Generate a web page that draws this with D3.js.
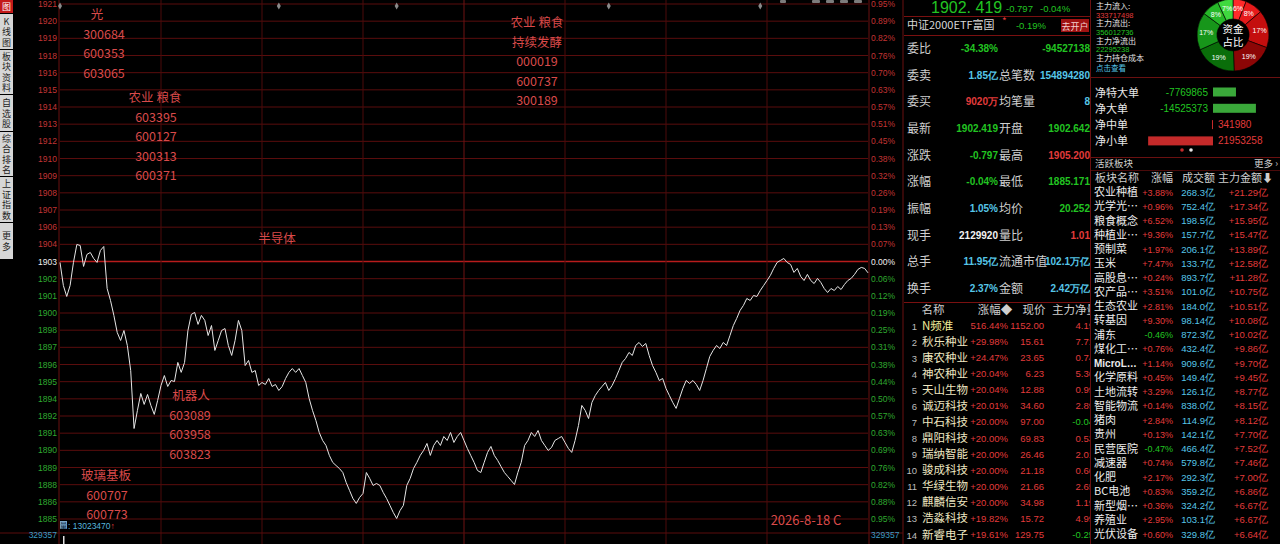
<!DOCTYPE html>
<html>
<head>
<meta charset="utf-8">
<script src="https://cdn.jsdelivr.net/npm/d3@7"></script>
<style>
html, body { margin: 0; padding: 0; background: #000; overflow: hidden; }
svg { display: block; }
</style>
</head>
<body>
<script>
// ---- values ----
var prevClose = 1903.216;
var rangePct = 0.0095;

var prices = [
  1903.15, 1901.53, 1900.76, 1901.53, 1903.15, 1904.41, 1904.34, 1902.87, 1903.71, 1903.85,
  1903.43, 1903.15, 1903.99, 1904.27, 1901.32, 1900.48, 1899.43, 1898.23, 1897.67, 1898.37,
  1897.32, 1895.56, 1891.49, 1892.76, 1893.95, 1893.18, 1893.88, 1893.11, 1892.48, 1893.46,
  1894.51, 1895.21, 1894.44, 1894.86, 1894.79, 1896.13, 1895.43, 1896.13, 1898.37, 1899.50,
  1899.64, 1898.80, 1899.43, 1899.08, 1898.02, 1898.72, 1896.97, 1897.67, 1898.37, 1898.51,
  1897.32, 1896.62, 1897.67, 1899.08, 1898.37, 1895.91, 1896.27, 1895.43, 1895.56, 1894.51,
  1894.72, 1894.58, 1895.00, 1894.44, 1894.58, 1894.16, 1894.44, 1895.00, 1895.43, 1895.70,
  1895.43, 1895.70, 1895.21, 1894.72, 1893.60, 1892.76, 1892.06, 1891.21, 1890.65, 1890.30,
  1889.60, 1889.11, 1888.89, 1888.68, 1888.40, 1887.70, 1887.14, 1886.58, 1886.23, 1886.65,
  1886.93, 1888.40, 1887.98, 1887.49, 1887.63, 1887.49, 1887.00, 1886.58, 1886.09, 1885.59,
  1885.17, 1885.73, 1886.09, 1887.49, 1887.98, 1888.68, 1889.11, 1889.60, 1889.95, 1890.44,
  1889.60, 1890.30, 1890.65, 1890.30, 1890.93, 1890.65, 1891.21, 1890.51, 1890.93, 1891.21,
  1890.65, 1890.09, 1889.60, 1889.11, 1888.54, 1888.40, 1889.11, 1889.81, 1890.23, 1889.60,
  1889.25, 1888.82, 1888.40, 1888.12, 1887.84, 1887.56, 1888.40, 1889.11, 1890.30, 1890.65,
  1891.21, 1890.93, 1891.35, 1890.65, 1890.30, 1889.95, 1890.16, 1890.65, 1890.79, 1890.93,
  1890.51, 1890.09, 1889.81, 1890.65, 1891.70, 1893.11, 1892.76, 1892.19, 1893.32, 1893.81,
  1894.16, 1894.44, 1894.72, 1894.16, 1894.51, 1895.00, 1895.56, 1896.13, 1896.41, 1896.83,
  1896.62, 1897.32, 1897.53, 1897.25, 1897.46, 1896.62, 1895.91, 1895.43, 1894.86, 1895.00,
  1894.30, 1893.81, 1893.32, 1892.90, 1893.60, 1894.30, 1894.86, 1894.65, 1894.86, 1894.58,
  1894.16, 1894.86, 1895.70, 1896.55, 1896.97, 1897.32, 1897.11, 1897.53, 1897.32, 1898.02,
  1898.72, 1899.22, 1899.78, 1900.13, 1900.62, 1900.48, 1900.83, 1900.76, 1901.18, 1901.53,
  1901.88, 1902.24, 1902.73, 1903.15, 1903.29, 1903.43, 1903.15, 1903.01, 1902.45, 1902.73,
  1902.17, 1901.88, 1902.31, 1901.88, 1901.67, 1902.03, 1901.74, 1901.32, 1901.04, 1901.32,
  1901.18, 1901.46, 1901.25, 1901.60, 1901.88, 1902.03, 1902.31, 1902.66, 1902.80, 1902.73,
  1902.42
];

var priceTickLabels = ["1921","1920","1919","1918","1916","1915","1914","1913","1912","1910",
  "1909","1908","1907","1906","1904","1903","1902","1901","1900","1898","1897","1896","1895",
  "1894","1892","1891","1890","1889","1888","1886","1885"];
var pctTickLabels = ["0.95%","0.89%","0.82%","0.76%","0.70%","0.63%","0.57%","0.51%","0.45%",
  "0.38%","0.32%","0.26%","0.19%","0.13%","0.07%","0.00%","0.06%","0.12%","0.19%","0.25%",
  "0.31%","0.38%","0.44%","0.50%","0.57%","0.63%","0.69%","0.76%","0.82%","0.88%","0.95%"];
var timeGridMinutes = [30, 60, 90, 120, 150, 180, 210];
var eventMinutes = [0, 65, 100, 163, 208];
var volumes = [329357];
var volumeLabel = "329357";
var totalVolume = "13023470";

var noteGroups = [
  ["光", "300684", "600353", "603065"],
  ["农业  粮食", "603395", "600127", "300313", "600371"],
  ["半导体"],
  ["机器人", "603089", "603958", "603823"],
  ["玻璃基板", "600707", "600773"],
  ["农业 粮食", "持续发酵", "000019", "600737", "300189"]
];
var dateNote = "2026-8-18 C";

var sideTabs = ["图", "K线图", "板块资料", "自选股", "综合排名", "上证指数", "更多"];

var lastPrice = "1902. 419", lastChange = "-0.797", lastPct = "-0.04%";
var etfName = "中证2000ETF富国", etfPct = "-0.19%";
var quoteLabels = ["委比","委卖","委买","最新","涨跌","涨幅","振幅","现手","总手","换手"];
var quoteValues = ["-34.38%","1.85亿","9020万","1902.419","-0.797","-0.04%","1.05%","2129920","11.95亿","2.37%"];
var quoteLabels2 = ["","总笔数","均笔量","开盘","最高","最低","均价","量比","流通市值","金额"];
var quoteValues2 = ["-94527138","154894280","8","1902.642","1905.200","1885.171","20.252","1.01","102.1万亿","2.42万亿"];

var stockNames = ["N频准","秋乐种业","康农种业","神农种业","天山生物","诚迈科技","中石科技",
  "鼎阳科技","瑞纳智能","骏成科技","华绿生物","麒麟信安","浩淼科技","新睿电子"];
var stockPct = ["516.44%","+29.98%","+24.47%","+20.04%","+20.04%","+20.01%","+20.00%",
  "+20.00%","+20.00%","+20.00%","+20.00%","+20.00%","+19.82%","+19.61%"];
var stockPrice = ["1152.00","15.61","23.65","6.23","12.88","34.60","97.00","69.83","26.46",
  "21.18","21.66","34.98","15.72","129.75"];
var stockNet = ["4.19","7.71","0.74","5.36","0.99","2.89","-0.04","0.53","2.01","0.66",
  "2.65","1.19","4.99","-0.25"];

var mainFlowLabels = ["主力流入:", "主力流出:", "主力净流出", "主力持仓成本"];
var mainFlowValues = ["333717498", "356012736", "22295238", "点击查看"];
var shareLabels = ["6%","8%","17%","19%","19%","17%","8%","7%"];
var shareValues = [6, 8, 17, 19, 19, 17, 8, 7];
var flowLabels = ["净特大单", "净大单", "净中单", "净小单"];
var flowValues = [-7769865, -14525373, 341980, 21953258];

var sectorNames = ["农业种植","光学光…","粮食概念","种植业…","预制菜","玉米","高股息…",
  "农产品…","生态农业","转基因","浦东","煤化工…","MicroL…","化学原料","土地流转","智能物流",
  "猪肉","贵州","民营医院","减速器","化肥","BC电池","新型烟…","养殖业","光伏设备"];
var sectorPct = ["+3.88%","+0.96%","+6.52%","+9.36%","+1.97%","+7.47%","+0.24%","+3.51%",
  "+2.81%","+9.30%","-0.46%","+0.76%","+1.14%","+0.45%","+3.29%","+0.14%","+2.84%","+0.13%",
  "-0.47%","+0.74%","+2.17%","+0.83%","+0.36%","+2.95%","+0.60%"];
var sectorAmount = ["268.3亿","752.4亿","198.5亿","157.7亿","206.1亿","133.7亿","893.7亿",
  "101.0亿","184.0亿","98.14亿","872.3亿","432.4亿","909.6亿","149.4亿","126.1亿","838.0亿",
  "114.9亿","142.1亿","466.4亿","579.8亿","292.3亿","359.2亿","324.2亿","103.1亿","329.8亿"];
var sectorMain = ["+21.29亿","+17.34亿","+15.95亿","+15.47亿","+13.89亿","+12.58亿","+11.28亿",
  "+10.75亿","+10.51亿","+10.08亿","+10.02亿","+9.86亿","+9.70亿","+9.45亿","+8.77亿","+8.15亿",
  "+8.12亿","+7.70亿","+7.52亿","+7.46亿","+7.00亿","+6.86亿","+6.67亿","+6.67亿","+6.64亿"];

// ---- colours ----
var RED = "#e23b3b", GREEN = "#22c422", CYAN = "#56c6e8", GREY = "#cfcfcf";
var GRID = "#5a0d0d", NOTE = "#d94a4a";
var CJK = '"Noto Sans CJK SC","Noto Sans",sans-serif';
var NUM = '"Liberation Sans","DejaVu Sans",sans-serif';

var svg = d3.select("body").append("svg")
    .attr("width", 1280)
    .attr("height", 544)
    .style("font-family", CJK);

svg.append("rect").attr("width", 1280).attr("height", 544).attr("fill", "#000");

function txt(g, x, y, s, fill, size, anchor, font, weight) {
    return g.append("text")
        .attr("x", x).attr("y", y)
        .attr("fill", fill)
        .attr("font-size", size)
        .attr("text-anchor", anchor || "start")
        .attr("font-family", font || CJK)
        .attr("font-weight", weight || "normal")
        .text(s);
}

// ---- left tabs ----
var tabBounds = [[0, 13], [14, 49], [50, 94], [95, 131], [132, 176], [177, 222], [223, 259]];
var tabs = svg.append("g");
sideTabs.forEach(function (t, i) {
    var b = tabBounds[i];
    tabs.append("rect").attr("x", 0).attr("y", b[0]).attr("width", 13).attr("height", b[1] - b[0])
        .attr("fill", i === 0 ? "#c41a1a" : "#d6d6d6");
    var chars = t === "K线图" ? ["K", "线", "图"] : t.split("");
    var mid = (b[0] + b[1]) / 2, step = 10.5;
    chars.forEach(function (c, j) {
        txt(tabs, 6.5, mid - (chars.length - 1) * step / 2 + j * step + 3.5, c,
            i === 0 ? "#fff" : "#222", 9, "middle");
    });
});

// ---- price chart ----
var plot = {left: 60, right: 868, top: 4, bottom: 519};
var hi = prevClose * (1 + rangePct), lo = prevClose * (1 - rangePct);
var x = d3.scaleLinear().domain([0, 240]).range([plot.left, plot.right]);
var y = d3.scaleLinear().domain([lo, hi]).range([plot.bottom, plot.top]);
var levels = d3.range(15, -16, -1).map(function (k) { return prevClose * (1 + rangePct * k / 15); });

var grid = svg.append("g");
grid.selectAll("line.h").data(levels).enter().append("line")
    .attr("x1", plot.left).attr("x2", plot.right)
    .attr("y1", function (d) { return y(d); }).attr("y2", function (d) { return y(d); })
    .attr("stroke", function (d, i) { return i === 15 ? "#b81c1c" : GRID; })
    .attr("stroke-width", function (d, i) { return i === 15 ? 1.6 : 1; });

grid.selectAll("line.v").data(timeGridMinutes).enter().append("line")
    .attr("x1", function (d) { return x(d); }).attr("x2", function (d) { return x(d); })
    .attr("y1", 0).attr("y2", 544)
    .attr("stroke", function (d) { return d === 120 ? "#6e1212" : "#4c0b0b"; });

[plot.left - 1, plot.right + 1, 903].forEach(function (xx) {
    grid.append("line").attr("x1", xx).attr("x2", xx).attr("y1", 0).attr("y2", 544)
        .attr("stroke", "#6a1010");
});
grid.append("line").attr("x1", 0).attr("x2", 903).attr("y1", 533).attr("y2", 533).attr("stroke", GRID);

// axis labels
var axL = svg.append("g");
levels.forEach(function (lv, i) {
    var c = i < 15 ? "#c23434" : (i === 15 ? "#f0f0f0" : "#2fa82f");
    txt(axL, 57, y(lv) + 3, priceTickLabels[i], c, 8.5, "end", NUM);
    txt(axL, 871, y(lv) + 3, pctTickLabels[i], c, 8.5, "start", NUM);
});

// event markers on top
svg.append("g").selectAll("path").data(eventMinutes).enter().append("path")
    .attr("d", d3.symbol().type(d3.symbolDiamond).size(14))
    .attr("transform", function (d) { return "translate(" + x(d) + ",6)"; })
    .attr("fill", "#8a8a8a");
[[780, 6], [812, 8], [826, 8], [840, 8], [854, 8]].forEach(function (r) {
    svg.append("rect").attr("x", r[0]).attr("y", 0).attr("width", r[1]).attr("height", 3)
        .attr("rx", 1).attr("fill", "#7c7c7c");
});

// price line
var line = d3.line()
    .x(function (d, i) { return x(i); })
    .y(function (d) { return y(d); });
svg.append("path").datum(prices)
    .attr("d", line)
    .attr("fill", "none")
    .attr("stroke", "#e6e6e6")
    .attr("stroke-width", 1);

// volume
var yv = d3.scaleLinear().domain([0, volumes[0]]).range([640, 536]);
svg.append("g").selectAll("rect").data(volumes).enter().append("rect")
    .attr("x", function (d, i) { return x(i) + 3; })
    .attr("y", function (d) { return yv(d); })
    .attr("width", 1.5)
    .attr("height", function (d) { return 640 - yv(d); })
    .attr("fill", "#e0e0e0");
txt(svg, 57, 538, volumeLabel, "#3c9cc4", 8.5, "end", NUM);
txt(svg, 871, 538, volumeLabel, "#3c9cc4", 8.5, "start", NUM);
svg.append("rect").attr("x", 60).attr("y", 521).attr("width", 7).attr("height", 8).attr("fill", "#7aa8c8");
txt(svg, 63.5, 528, "量", "#0a2a44", 7, "middle");
var vt = txt(svg, 68, 529, ": " + totalVolume, "#56b4dc", 8.5, "start", NUM);
vt.append("tspan").attr("fill", RED).text("↑");

// annotations
var noteAnchors = [[97, 14, "middle"], [155, 97, "middle"], [277, 238, "middle"],
                   [191, 395, "middle"], [106, 475, "middle"], [537, 22, "middle"]];
var notes = svg.append("g");
noteGroups.forEach(function (grp, gi) {
    var a = noteAnchors[gi];
    grp.forEach(function (s, j) {
        var xx = a[0];
        if (gi === 0 && j > 0) xx = 104;
        if (gi === 3 && j > 0) xx = 190;
        if (gi === 4 && j > 0) xx = 107;
        if (gi === 1 && j > 0) xx = 156;
        txt(notes, xx, a[1] + 5 + j * 19.6, s, NOTE, 12.5, a[2]);
    });
});
txt(svg, 806, 525, dateNote, NOTE, 13, "middle");

// ---- quote panel ----
var qp = svg.append("g");
qp.append("clipPath").attr("id", "qclip").append("rect")
    .attr("x", 904).attr("y", 0).attr("width", 186).attr("height", 544);
var q = qp.append("g").attr("clip-path", "url(#qclip)");

txt(q, 931, 13, lastPrice, GREEN, 16, "start", NUM);
txt(q, 1006, 12, lastChange, GREEN, 9.5, "start", NUM);
txt(q, 1040, 12, lastPct, GREEN, 9.5, "start", NUM);
q.append("line").attr("x1", 904).attr("x2", 1090).attr("y1", 16.5).attr("y2", 16.5).attr("stroke", "#7a1010");
txt(q, 907, 29, etfName, "#d8d8d8", 11);
txt(q, 1002, 25, "*", RED, 10);
txt(q, 1046, 29, etfPct, GREEN, 9.5, "end", NUM);
q.append("rect").attr("x", 1061).attr("y", 19).attr("width", 28).attr("height", 13).attr("fill", "#a01212");
txt(q, 1075, 29.5, "去开户", "#f4d0d0", 9, "middle");
q.append("line").attr("x1", 904).attr("x2", 1090).attr("y1", 35.5).attr("y2", 35.5).attr("stroke", "#7a1010");

var qColor1 = [GREEN, CYAN, RED, GREEN, GREEN, GREEN, CYAN, "#f2f2f2", CYAN, CYAN];
var qColor2 = [GREEN, CYAN, CYAN, GREEN, RED, GREEN, GREEN, RED, CYAN, CYAN];
quoteLabels.forEach(function (lab, i) {
    var yy = 53 + i * 26.67;
    txt(q, 907, yy, lab, GREY, 12);
    txt(q, 998, yy - 1, quoteValues[i], qColor1[i], 10, "end", NUM, "bold");
    if (quoteLabels2[i]) txt(q, 999, yy, quoteLabels2[i], GREY, 12);
    txt(q, 1090, yy - 1, quoteValues2[i], qColor2[i], 10, "end", NUM, "bold");
});
q.append("line").attr("x1", 904).attr("x2", 1090).attr("y1", 302.5).attr("y2", 302.5).attr("stroke", "#7a1010");

// stock ranking list
txt(q, 933, 314, "名称", GREY, 11.5, "middle");
txt(q, 995, 314, "涨幅◆", GREY, 11.5, "middle");
txt(q, 1034, 314, "现价", GREY, 11.5, "middle");
txt(q, 1052, 314, "主力净量", GREY, 11.5);
stockNames.forEach(function (n, i) {
    var yy = 329.5 + i * 16.08;
    txt(q, 917, yy, String(i + 1), "#bdbdbd", 9.5, "end", NUM);
    txt(q, 922, yy, n, i === 0 ? "#f4ee9a" : "#eee6c0", 11.5);
    txt(q, 1008, yy - 0.5, stockPct[i], RED, 9.5, "end", NUM);
    txt(q, 1044, yy - 0.5, stockPrice[i], RED, 9.5, "end", NUM);
    txt(q, 1094, yy - 0.5, stockNet[i], stockNet[i].charAt(0) === "-" ? GREEN : RED, 9.5, "end", NUM);
});

// ---- right panel: money flow ----
var rp = svg.append("g");
rp.append("line").attr("x1", 1090.5).attr("x2", 1090.5).attr("y1", 0).attr("y2", 544).attr("stroke", "#6a1010");
var mfColors = [RED, GREEN, GREEN, CYAN];
mainFlowLabels.forEach(function (lab, i) {
    txt(rp, 1096, 9 + i * 17.3, lab, "#e0e0e0", 8);
    txt(rp, 1096, 17.5 + i * 17.3 + (i === 3 ? 1.5 : 0), mainFlowValues[i], mfColors[i],
        i === 3 ? 7.5 : 7.5, "start", i === 3 ? CJK : NUM);
});

var pie = d3.pie().sort(null).value(function (d) { return d; });
var arc = d3.arc().innerRadius(16).outerRadius(36);
var labelArc = d3.arc().innerRadius(27).outerRadius(27);
var shareColors = ["#ff2a2a", "#e61a1a", "#c40e0e", "#8c0606", "#0a6e0a", "#17961a", "#26b828", "#3fd83f"];
var donut = rp.append("g").attr("transform", "translate(1233,35)");
var arcs = pie(shareValues);
donut.selectAll("path").data(arcs).enter().append("path")
    .attr("d", arc)
    .attr("fill", function (d, i) { return shareColors[i]; })
    .attr("stroke", "#000").attr("stroke-width", 0.6);
donut.selectAll("text").data(arcs).enter().append("text")
    .attr("transform", function (d) { return "translate(" + labelArc.centroid(d) + ")"; })
    .attr("dy", 2.5)
    .attr("text-anchor", "middle")
    .attr("fill", "#fff")
    .attr("font-size", 7)
    .attr("font-family", NUM)
    .text(function (d, i) { return shareLabels[i]; });
txt(donut, 0, -2, "资金", "#fff", 10.5, "middle");
txt(donut, 0, 11, "占比", "#fff", 10.5, "middle");

rp.append("line").attr("x1", 1091).attr("x2", 1280).attr("y1", 77.5).attr("y2", 77.5).attr("stroke", "#6a1010");

var flowScale = d3.scaleLinear().domain([0, 22000000]).range([0, 65]);
var flowAxis = 1213;
flowLabels.forEach(function (lab, i) {
    var v = flowValues[i], yc = 92 + i * 16.3;
    txt(rp, 1095, yc + 4.5, lab, "#e8e8e8", 11);
    var w = Math.max(1, flowScale(Math.abs(v)));
    rp.append("rect")
        .attr("x", v < 0 ? flowAxis : flowAxis - w)
        .attr("y", yc - 4.5).attr("width", w).attr("height", 9)
        .attr("fill", v < 0 ? "#3aa83a" : "#c42a2a");
    if (v < 0) txt(rp, 1208, yc + 3.5, String(v), GREEN, 10, "end", NUM);
    else txt(rp, 1218, yc + 3.5, String(v), RED, 10, "start", NUM);
});
rp.append("circle").attr("cx", 1182).attr("cy", 150).attr("r", 1.8).attr("fill", "#c42a2a");
rp.append("circle").attr("cx", 1191).attr("cy", 150).attr("r", 1.8).attr("fill", "#e8e8e8");
rp.append("line").attr("x1", 1091).attr("x2", 1280).attr("y1", 157.5).attr("y2", 157.5).attr("stroke", "#6a1010");

// ---- active sectors ----
txt(rp, 1095, 167, "活跃板块", GREY, 9.5);
txt(rp, 1266, 167, "更多 ›", GREY, 9.5, "middle");
rp.append("line").attr("x1", 1091).attr("x2", 1280).attr("y1", 170.5).attr("y2", 170.5).attr("stroke", "#4a0a0a");
txt(rp, 1095, 182, "板块名称", GREY, 11);
txt(rp, 1173, 182, "涨幅", GREY, 11, "end");
txt(rp, 1215, 182, "成交额", GREY, 11, "end");
txt(rp, 1218, 182, "主力金额⬇", GREY, 11);
sectorNames.forEach(function (n, i) {
    var yy = 196 + i * 14.25;
    var latin = n.indexOf("Micro") === 0;
    txt(rp, 1094, yy, n, "#ececec", latin ? 10 : 11, "start", latin ? NUM : CJK, latin ? "bold" : "normal");
    txt(rp, 1173, yy - 0.5, sectorPct[i], sectorPct[i].charAt(0) === "-" ? GREEN : RED, 9, "end", NUM);
    txt(rp, 1215, yy - 0.5, sectorAmount[i], CYAN, 9.5, "end", NUM);
    txt(rp, 1268, yy - 0.5, sectorMain[i], RED, 9.5, "end", NUM);
});
</script>
</body>
</html>
